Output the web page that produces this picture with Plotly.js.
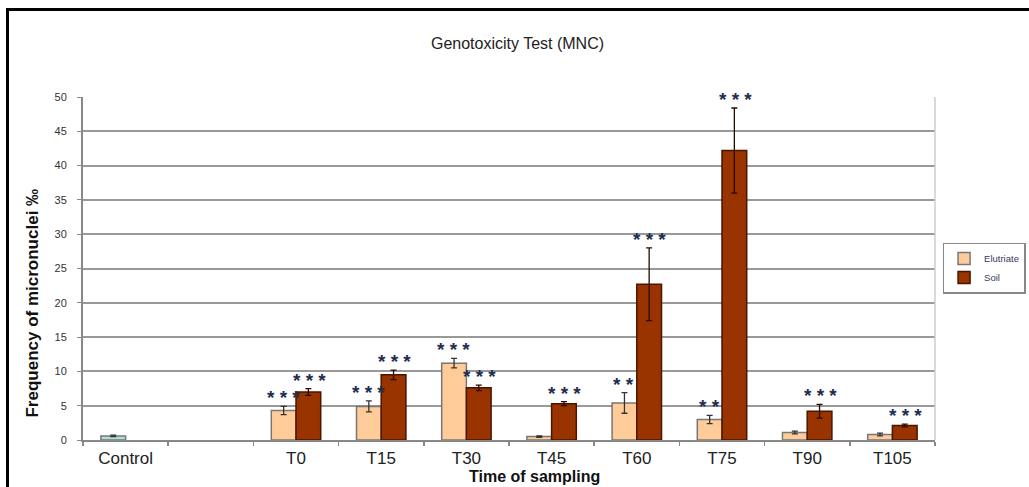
<!DOCTYPE html>
<html>
<head>
<meta charset="utf-8">
<script src="https://cdn.plot.ly/plotly-3.0.1.min.js"></script>
<style>
html,body{margin:0;padding:0;background:#fff;}
#wrap{position:relative;width:1029px;height:487px;overflow:hidden;}
#chart{width:1029px;height:487px;}
#frame{position:absolute;left:6px;top:8px;width:1040px;height:500px;border-top:3px solid #000;border-left:3px solid #000;pointer-events:none;}
</style>
</head>
<body>
<div id="wrap"><div id="chart"></div><div id="frame"></div></div>
<script>
const categories = ["Control", " ", "T0", "T15", "T30", "T45", "T60", "T75", "T90", "T105"];
const control = [0.6, null, null, null, null, null, null, null, null, null];
const controlErr = [0.1, null, null, null, null, null, null, null, null, null];
const elutriate = [null, null, 4.3, 4.9, 11.2, 0.5, 5.4, 3.0, 1.1, 0.8];
const elutriateErr = [null, null, 0.6, 0.8, 0.7, 0.1, 1.5, 0.6, 0.2, 0.2];
const soil = [null, null, 7.0, 9.5, 7.6, 5.3, 22.7, 42.2, 4.2, 2.1];
const soilErr = [null, null, 0.5, 0.7, 0.4, 0.3, 5.3, 6.2, 1.0, 0.2];
const elutriateStars = ["", "", "* * *", "* * *", "* * *", "", "* *", "* *", "", ""];
const soilStars = ["", "", "* * *", "* * *", "* * *", "* * *", "* * *", "* * *", "* * *", "* * *"];

const traces = [
  {
    type: "bar", name: "Control", x: categories, y: control, offsetgroup: "e", showlegend: false,
    marker: {color: "#ace0dc", line: {color: "#777", width: 1.5}},
    error_y: {type: "data", array: controlErr, visible: true, color: "#333", thickness: 1.3, width: 3}
  },
  {
    type: "bar", name: "Elutriate", x: categories, y: elutriate, offsetgroup: "e",
    marker: {color: "#ffcc99", line: {color: "#777", width: 1.5}},
    error_y: {type: "data", array: elutriateErr, visible: true, color: "#333", thickness: 1.3, width: 3}
  },
  {
    type: "bar", name: "Soil", x: categories, y: soil, offsetgroup: "s",
    marker: {color: "#993300", line: {color: "#4a1500", width: 1.5}},
    error_y: {type: "data", array: soilErr, visible: true, color: "#2a0a00", thickness: 1.3, width: 3}
  }
];

const annotations = [];
categories.forEach((c, i) => {
  if (elutriateStars[i]) {
    annotations.push({x: c, y: elutriate[i] + elutriateErr[i], xref: "x", yref: "y", text: elutriateStars[i],
      showarrow: false, xshift: -13, yanchor: "bottom", yshift: -4,
      font: {family: "Arial", size: 19, color: "#1f2d4f", weight: "bold"}});
  }
  if (soilStars[i]) {
    annotations.push({x: c, y: soil[i] + soilErr[i], xref: "x", yref: "y", text: soilStars[i],
      showarrow: false, xshift: 13, yanchor: "bottom", yshift: -4,
      font: {family: "Arial", size: 19, color: "#1f2d4f", weight: "bold"}});
  }
});
annotations.push({text: "Frequency of micronuclei ‰", textangle: -90, xref: "paper", yref: "paper",
  x: -0.059, y: 0.40, xanchor: "center", yanchor: "middle", showarrow: false,
  font: {family: "Arial", size: 17, color: "#111", weight: "bold"}});
annotations.push({text: "Time of sampling", xref: "paper", yref: "paper",
  x: 0.53, y: -0.105, xanchor: "center", yanchor: "middle", showarrow: false,
  font: {family: "Arial", size: 16, color: "#111", weight: "bold"}});

const layout = {
  width: 1029, height: 487,
  margin: {l: 83, r: 94, t: 97, b: 47, pad: 0},
  paper_bgcolor: "#fff", plot_bgcolor: "#fff",
  title: {text: "Genotoxicity Test (MNC)", x: 0.51, xref: "paper", y: 0.91, yref: "container", yanchor: "middle",
    font: {family: "Arial", size: 16, color: "#222"}},
  barmode: "group", bargap: 0.42, bargroupgap: 0,
  showlegend: true,
  legend: {xref: "container", yref: "container", x: 0.916, y: 0.502, xanchor: "left", yanchor: "top",
    bordercolor: "#888", borderwidth: 1.5,
    font: {family: "Arial", size: 9.5, color: "#3a3a5a"}, itemwidth: 30, tracegroupgap: 2},
  xaxis: {type: "category", tickson: "boundaries", ticks: "outside", ticklen: 4, tickcolor: "#888", tickwidth: 1.5,
    showline: true, linecolor: "#888", linewidth: 2, showgrid: false, ticklabelstandoff: 2,
    tickfont: {family: "Arial", size: 17, color: "#222"}},
  yaxis: {range: [0, 50], dtick: 5, ticks: "outside", ticklen: 4, tickcolor: "#888",
    showline: true, linecolor: "#888", linewidth: 2, showgrid: true, gridcolor: "#999", gridwidth: 2,
    zeroline: false, ticklabelstandoff: 8, tickfont: {family: "Arial", size: 11, color: "#333"}},
  shapes: [{type: "line", xref: "paper", yref: "paper", x0: 1, x1: 1, y0: 0, y1: 1, line: {color: "#ccc", width: 1.5}}],
  annotations: annotations
};

Plotly.newPlot("chart", traces, layout, {displayModeBar: false, staticPlot: true});
</script>
</body>
</html>
